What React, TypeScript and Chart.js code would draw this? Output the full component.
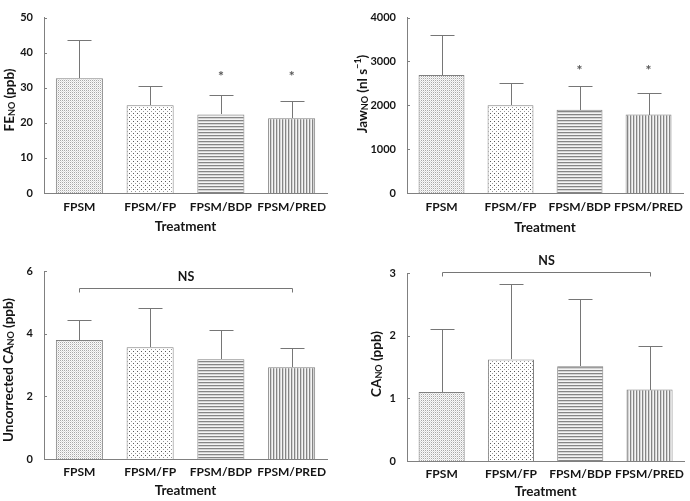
import React, { useEffect, useRef } from 'react';
import { Chart, registerables } from 'chart.js';
Chart.register(...registerables);

const categories = ['FPSM', 'FPSM/FP', 'FPSM/BDP', 'FPSM/PRED'];

const fenoMean = [32.7, 25.0, 22.4, 21.3];
const fenoUpper = [43.5, 30.4, 28.0, 26.2];
const fenoStars = [false, false, true, true];
const fenoStarLevel = 34;

const jawMean = [2690, 2000, 1900, 1790];
const jawUpper = [3610, 2510, 2430, 2275];
const jawStars = [false, false, true, true];
const jawStarLevel = 2870;

const uncorrMean = [3.8, 3.57, 3.18, 2.93];
const uncorrUpper = [4.44, 4.81, 4.12, 3.53];
const uncorrNsLevel = 5.45;

const canoMean = [1.1, 1.62, 1.51, 1.14];
const canoUpper = [2.11, 2.83, 2.58, 1.83];
const canoNsLevel = 3.02;

const FONT = 'Lato, "Open Sans", "DejaVu Sans", sans-serif';
const TEXT = '#151515';
const LINE = '#808080';

type Seg = { t: string; s?: 'sub' | 'sup' };

interface PanelCfg {
  x0: number; y0: number; w: number; h: number;
  area: { l: number; t: number; r: number; b: number };
  means: number[]; upper: number[];
  yMax: number; yStep: number;
  title: Seg[]; titleX: number; titleY: number;
  stars?: boolean[]; starLevel?: number;
  nsLevel?: number;
  xTitleY: number; tickPad: number;
}

const panels: PanelCfg[] = [
  {
    x0: 0, y0: 0, w: 345, h: 250, area: { l: 44, t: 6, r: 327, b: 193 },
    means: fenoMean, upper: fenoUpper, yMax: 50, yStep: 10,
    title: [{ t: 'FE' }, { t: 'NO', s: 'sub' }, { t: ' (ppb)' }], titleX: 9, titleY: 100,
    stars: fenoStars, starLevel: fenoStarLevel, xTitleY: 227, tickPad: 7,
  },
  {
    x0: 345, y0: 0, w: 345, h: 250, area: { l: 62, t: 6, r: 345, b: 193 },
    means: jawMean, upper: jawUpper, yMax: 4000, yStep: 1000,
    title: [{ t: 'Jaw' }, { t: 'NO', s: 'sub' }, { t: ' (nl s' }, { t: '\u22121', s: 'sup' }, { t: ')' }], titleX: 17, titleY: 94,
    stars: jawStars, starLevel: jawStarLevel, xTitleY: 228, tickPad: 7,
  },
  {
    x0: 0, y0: 250, w: 345, h: 251, area: { l: 44, t: 21, r: 327, b: 209 },
    means: uncorrMean, upper: uncorrUpper, yMax: 6, yStep: 2,
    title: [{ t: 'Uncorrected CA' }, { t: 'NO', s: 'sub' }, { t: ' (ppb)' }], titleX: 8, titleY: 120,
    nsLevel: uncorrNsLevel, xTitleY: 241, tickPad: 5.5,
  },
  {
    x0: 345, y0: 250, w: 345, h: 251, area: { l: 62, t: 23, r: 345, b: 211 },
    means: canoMean, upper: canoUpper, yMax: 3, yStep: 1,
    title: [{ t: 'CA' }, { t: 'NO', s: 'sub' }, { t: ' (ppb)' }], titleX: 31, titleY: 114,
    nsLevel: canoNsLevel, xTitleY: 242, tickPad: 6,
  },
];

function makePattern(w: number, h: number, pixels: [number, number, string][], bg: string) {
  const c = document.createElement('canvas');
  c.width = w; c.height = h;
  const g = c.getContext('2d')!;
  g.fillStyle = bg; g.fillRect(0, 0, w, h);
  pixels.forEach(([x, y, col]) => { g.fillStyle = col; g.fillRect(x, y, 1, 1); });
  return g.createPattern(c, 'repeat')!;
}

function makeStripes(horizontal: boolean, cols: string[]) {
  const c = document.createElement('canvas');
  c.width = horizontal ? 1 : cols.length;
  c.height = horizontal ? cols.length : 1;
  const g = c.getContext('2d')!;
  cols.forEach((col, i) => { g.fillStyle = col; if (horizontal) g.fillRect(0, i, 1, 1); else g.fillRect(i, 0, 1, 1); });
  return g.createPattern(c, 'repeat')!;
}

function buildPatterns() {
  return [
    makePattern(2, 2, [[0, 0, '#a8a8a8'], [1, 1, '#dedede']], '#fafafa'),
    makePattern(4, 4, [[1, 1, '#5a5a5a'], [3, 3, '#9a9a9a']], '#ffffff'),
    makeStripes(true, ['#858585', '#d4d4d4', '#f4f4f4']),
    makeStripes(false, ['#858585', '#d4d4d4', '#f4f4f4']),
  ];
}

function drawRich(ctx: CanvasRenderingContext2D, segs: Seg[], cx: number, cy: number, size: number) {
  ctx.save();
  ctx.translate(cx, cy);
  ctx.rotate(-Math.PI / 2);
  const main = `bold ${size}px ${FONT}`;
  const small = `bold ${Math.round(size * 0.68)}px ${FONT}`;
  const widths = segs.map((s) => { ctx.font = s.s ? small : main; return ctx.measureText(s.t).width; });
  const total = widths.reduce((a, b) => a + b, 0);
  let x = -total / 2;
  const base = size * 0.36;
  ctx.fillStyle = TEXT;
  ctx.textBaseline = 'alphabetic';
  ctx.textAlign = 'left';
  segs.forEach((s, i) => {
    ctx.font = s.s ? small : main;
    const dy = s.s === 'sub' ? size * 0.08 : s.s === 'sup' ? -size * 0.42 : 0;
    ctx.fillText(s.t, x, base + dy);
    x += widths[i];
  });
  ctx.restore();
}

function Panel({ cfg }: { cfg: PanelCfg }) {
  const ref = useRef<HTMLCanvasElement>(null);
  useEffect(() => {
    const canvas = ref.current!;
    const patterns = buildPatterns();
    const deco = {
      id: 'deco',
      afterDatasetsDraw(chart: any) {
        const ctx: CanvasRenderingContext2D = chart.ctx;
        const ys = chart.scales.y;
        const area = chart.chartArea;
        const meta = chart.getDatasetMeta(0);
        ctx.save();
        ctx.strokeStyle = '#767676';
        ctx.lineWidth = 1;
        meta.data.forEach((bar: any, i: number) => {
          const x = Math.round(bar.x) + 0.5;
          const yTop = Math.round(ys.getPixelForValue(cfg.upper[i])) + 0.5;
          const yBar = Math.round(bar.y);
          ctx.beginPath();
          ctx.moveTo(x, yBar);
          ctx.lineTo(x, yTop);
          ctx.moveTo(x - 12, yTop);
          ctx.lineTo(x + 12, yTop);
          ctx.stroke();
        });
        ctx.strokeStyle = LINE;
        ys.ticks.forEach((t: any) => {
          const y = Math.round(ys.getPixelForValue(t.value)) + 0.5;
          ctx.beginPath();
          ctx.moveTo(area.left, y);
          ctx.lineTo(area.left + 3, y);
          ctx.stroke();
        });
        if (cfg.stars && cfg.starLevel !== undefined) {
          ctx.fillStyle = '#555';
          ctx.font = `bold 14px ${FONT}`;
          ctx.textAlign = 'center';
          ctx.textBaseline = 'middle';
          meta.data.forEach((bar: any, i: number) => {
            if (cfg.stars![i]) ctx.fillText('*', bar.x, ys.getPixelForValue(cfg.starLevel!) + 3);
          });
        }
        if (cfg.nsLevel !== undefined) {
          const x1 = Math.round(meta.data[0].x) + 0.5;
          const x2 = Math.round(meta.data[meta.data.length - 1].x) + 0.5;
          const y = Math.round(ys.getPixelForValue(cfg.nsLevel)) + 0.5;
          ctx.strokeStyle = '#767676';
          ctx.beginPath();
          ctx.moveTo(x1, y + 4);
          ctx.lineTo(x1, y);
          ctx.lineTo(x2, y);
          ctx.lineTo(x2, y + 4);
          ctx.stroke();
          ctx.fillStyle = TEXT;
          ctx.font = `bold 12.5px ${FONT}`;
          ctx.textAlign = 'center';
          ctx.textBaseline = 'middle';
          ctx.fillText('NS', (x1 + x2) / 2, y - 12);
        }
        ctx.restore();
        drawRich(ctx, cfg.title, cfg.titleX, cfg.titleY, 13.5);
      },
    };
    const titleFont = 13.5;
    const chart = new Chart(canvas, {
      type: 'bar',
      data: {
        labels: categories,
        datasets: [{
          data: cfg.means,
          backgroundColor: patterns as any,
          borderColor: LINE,
          borderWidth: 1,
          barPercentage: 0.665,
          categoryPercentage: 1,
        }],
      },
      options: {
        animation: false,
        responsive: false,
        devicePixelRatio: 1,
        layout: { padding: { left: 0, top: cfg.area.t, right: cfg.w - cfg.area.r, bottom: 0 } },
        plugins: { legend: { display: false }, tooltip: { enabled: false } },
        scales: {
          x: {
            grid: { display: false, drawTicks: false },
            border: { display: true, color: LINE, width: 1 },
            ticks: { font: { family: FONT, size: 12, weight: 'bold' }, color: TEXT, padding: cfg.tickPad, maxRotation: 0, autoSkip: false },
            title: {
              display: true, text: 'Treatment', color: TEXT,
              font: { family: FONT, size: titleFont, weight: 'bold' },
              padding: { top: 0, bottom: cfg.h - cfg.xTitleY - titleFont * 0.6 },
            },
            afterFit: (s: any) => { s.height = cfg.h - cfg.area.b; },
          },
          y: {
            min: 0, max: cfg.yMax,
            grid: { display: false, drawTicks: false },
            border: { display: true, color: LINE, width: 1 },
            ticks: {
              stepSize: cfg.yStep, font: { family: FONT, size: 11, weight: 'bold' }, color: TEXT, padding: 11,
              callback: (v: any) => String(v),
            },
            afterFit: (s: any) => { s.width = cfg.area.l; },
          },
        },
      } as any,
      plugins: [deco],
    });
    return () => chart.destroy();
  }, []);
  return (
    <canvas
      ref={ref}
      width={cfg.w}
      height={cfg.h}
      style={{ position: 'absolute', left: cfg.x0, top: cfg.y0, width: cfg.w, height: cfg.h }}
    />
  );
}

export default function App() {
  return (
    <div style={{ position: 'fixed', left: 0, top: 0, width: 690, height: 501, background: '#fff', overflow: 'hidden' }}>
      {panels.map((p, i) => <Panel key={i} cfg={p} />)}
    </div>
  );
}
